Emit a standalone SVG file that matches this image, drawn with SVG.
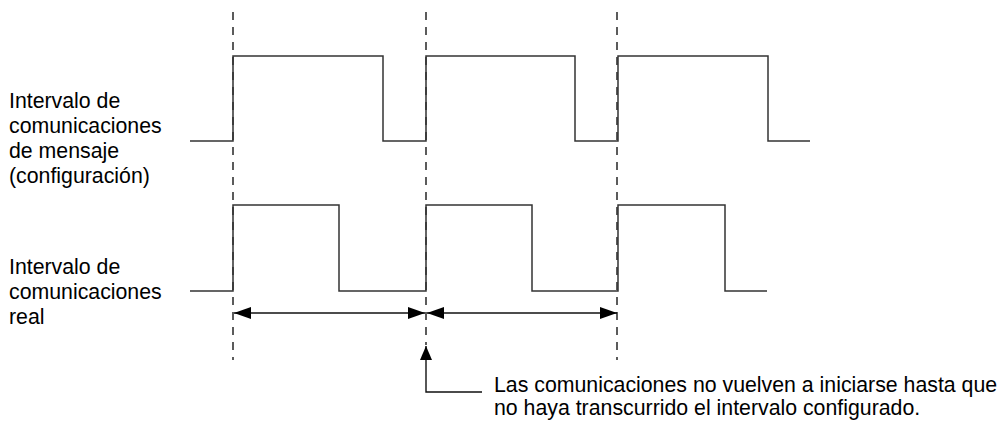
<svg xmlns="http://www.w3.org/2000/svg" width="1001" height="421" viewBox="0 0 1001 421">
<style>
text{font-family:"Liberation Sans",Arial,sans-serif;font-size:21.3px;fill:#000}
.sig{fill:none;stroke:#333;stroke-width:1.5}
.dash{fill:none;stroke:#333;stroke-width:1.6;stroke-dasharray:8 7}
.arr{fill:none;stroke:#111;stroke-width:1.4}
</style>
<defs>
<marker id="ah" viewBox="0 0 17 12" refX="17" refY="6" markerWidth="17" markerHeight="12" markerUnits="userSpaceOnUse" orient="auto-start-reverse">
<path d="M0,0 L17,6 L0,12 Z" fill="#000"/>
</marker>
<marker id="ahu" viewBox="0 0 14 12" refX="14" refY="6" markerWidth="14" markerHeight="12" markerUnits="userSpaceOnUse" orient="auto">
<path d="M0,0 L14,6 L0,12 Z" fill="#000"/>
</marker>
</defs>
<g id="gridlines">
<line class="dash" x1="233" y1="12" x2="233" y2="360"/>
<line class="dash" x1="426" y1="12" x2="426" y2="345"/>
<line class="dash" x1="617" y1="12" x2="617" y2="360"/>
</g>
<g id="label-config">
<text x="9" y="108">Intervalo de</text>
<text x="9" y="133">comunicaciones</text>
<text x="9" y="158">de mensaje</text>
<text x="9" y="183">(configuración)</text>
</g>
<g id="label-real">
<text x="9" y="274">Intervalo de</text>
<text x="9" y="299">comunicaciones</text>
<text x="9" y="324">real</text>
</g>
<g id="signal-config">
<path class="sig" d="M190,141 H233 V56 H383 V141 H426 V56 H575 V141 H618 V56 H768 V141 H810"/>
</g>
<g id="signal-real">
<path class="sig" d="M190,291 H233 V205 H339 V291 H426 V205 H532 V291 H618 V205 H725 V291 H767"/>
</g>
<g id="connectors">
<line class="arr" x1="234" y1="313" x2="425" y2="313" marker-start="url(#ah)" marker-end="url(#ah)"/>
<line class="arr" x1="427" y1="313" x2="617" y2="313" marker-start="url(#ah)" marker-end="url(#ah)"/>
<path class="arr" d="M482,392 H426 V346" marker-end="url(#ahu)"/>
</g>
<g id="note">
<text x="494" y="392">Las comunicaciones no vuelven a iniciarse hasta que</text>
<text x="494" y="415">no haya transcurrido el intervalo configurado.</text>
</g>
</svg>
